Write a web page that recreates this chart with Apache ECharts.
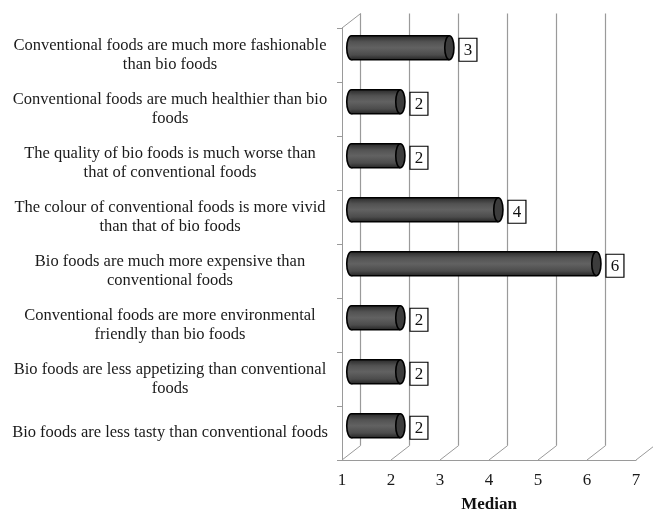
<!DOCTYPE html>
<html>
<head>
<meta charset="utf-8">
<script src="https://cdn.jsdelivr.net/npm/echarts@6/dist/echarts.min.js"></script>
<style>
  html, body { margin: 0; padding: 0; background: #fff; }
  #chart { width: 653px; height: 509px; }
</style>
</head>
<body>
<div id="chart"></div>
<script>
// Statements, listed top to bottom
const statements = [
  'Conventional foods are much more fashionable\nthan bio foods',
  'Conventional foods are much healthier than bio\nfoods',
  'The quality of bio foods is much worse than\nthat of conventional foods',
  'The colour of conventional foods is more vivid\nthan that of bio foods',
  'Bio foods are much more expensive than\nconventional foods',
  'Conventional foods are more environmental\nfriendly than bio foods',
  'Bio foods are less appetizing than conventional\nfoods',
  'Bio foods are less tasty than conventional foods'
];
// Median answer for each statement
const medians = [3, 2, 2, 4, 6, 2, 2, 2];
// Scale ticks
const scaleTicks = [1, 2, 3, 4, 5, 6, 7];

const FONT = '"Liberation Serif", "Times New Roman", serif';
const DEPTH = [18.7, -14.5];   // 3D wall offset in pixels
const GRID_COLOR = '#9a9a9a';

const chart = echarts.init(document.getElementById('chart'));

// Cylinder bars drawn at mid depth
function renderCylinder(params, api) {
  const v = api.value(0);
  const cat = api.value(1);
  const start = api.coord([scaleTicks[0], cat]);
  const end = api.coord([v, cat]);
  const ox = DEPTH[0] / 2, oy = DEPTH[1] / 2;
  const x0 = start[0] + ox, x1 = end[0] + ox;
  const cy = start[1] + oy;
  const h = 24, rx = 4.6;
  const grad = new echarts.graphic.LinearGradient(0, 0, 0, 1, [
    { offset: 0, color: '#2a2a2a' },
    { offset: 0.25, color: '#525252' },
    { offset: 0.5, color: '#626262' },
    { offset: 0.8, color: '#4c4c4c' },
    { offset: 1, color: '#262626' }
  ]);
  const boxX = x1 + rx + 5;
  return {
    type: 'group',
    children: [
      { type: 'ellipse', shape: { cx: x0, cy: cy, rx: rx, ry: h / 2 },
        style: { fill: grad, stroke: '#000', lineWidth: 1.6 } },
      { type: 'rect', shape: { x: x0, y: cy - h / 2, width: x1 - x0, height: h },
        style: { fill: grad } },
      { type: 'line', shape: { x1: x0, y1: cy - h / 2, x2: x1, y2: cy - h / 2 },
        style: { stroke: '#000', lineWidth: 1.6 } },
      { type: 'line', shape: { x1: x0, y1: cy + h / 2, x2: x1, y2: cy + h / 2 },
        style: { stroke: '#000', lineWidth: 1.6 } },
      { type: 'ellipse', shape: { cx: x1, cy: cy, rx: rx, ry: h / 2 },
        style: { fill: '#3c3c3c', stroke: '#000', lineWidth: 1.6 } },
      { type: 'rect', shape: { x: boxX, y: cy + 2 - 11.5, width: 18, height: 23 },
        style: { fill: '#fff', stroke: '#000', lineWidth: 1.2 } },
      { type: 'text', style: { x: boxX + 9, y: cy + 2.5, text: String(v),
        font: '17px ' + FONT, fill: '#111', align: 'center', verticalAlign: 'middle' } }
    ]
  };
}

// Perspective lines of the floor and the top-left edge
function renderDepthLines(params, api) {
  const v = api.value(0);
  const band = api.size([0, 1])[1];
  const bottom = api.coord([v, statements.length - 1])[1] + band / 2;
  const x = api.coord([v, 0])[0];
  const children = [
    { type: 'line', shape: { x1: x, y1: bottom, x2: x + DEPTH[0], y2: bottom + DEPTH[1] },
      style: { stroke: GRID_COLOR, lineWidth: 1 } }
  ];
  if (params.dataIndex === 0) {
    const top = api.coord([v, 0])[1] - band / 2;
    children.push({ type: 'line', shape: { x1: x, y1: top, x2: x + DEPTH[0], y2: top + DEPTH[1] },
      style: { stroke: GRID_COLOR, lineWidth: 1 } });
  }
  return { type: 'group', children: children };
}

const catData = statements.map((s, i) => i);

chart.setOption({
  animation: false,
  backgroundColor: '#fff',
  grid: [
    { left: 342, top: 28, width: 294, height: 432, outerBoundsMode: 'none', containLabel: false },
    { left: 342 + DEPTH[0], top: 28 + DEPTH[1], width: 294, height: 432, outerBoundsMode: 'none', containLabel: false }
  ],
  xAxis: [
    {
      gridIndex: 0, type: 'value', min: 1, max: 7, interval: 1,
      name: 'Median', nameLocation: 'middle', nameGap: 36,
      nameTextStyle: { fontFamily: FONT, fontSize: 17, fontWeight: 'bold', color: '#111' },
      axisLine: { show: true, lineStyle: { color: GRID_COLOR, width: 1 } },
      axisTick: { show: false },
      axisLabel: { fontFamily: FONT, fontSize: 17, color: '#1a1a1a', margin: 12 },
      splitLine: { show: false }
    },
    {
      gridIndex: 1, type: 'value', min: 1, max: 7, interval: 1,
      axisLine: { show: false }, axisTick: { show: false }, axisLabel: { show: false },
      splitLine: { show: true, lineStyle: { color: GRID_COLOR, width: 1.2 } }
    }
  ],
  yAxis: [
    {
      gridIndex: 0, type: 'category', data: statements, inverse: true,
      axisLine: { show: true, lineStyle: { color: GRID_COLOR, width: 1 } },
      axisTick: { show: true, length: 5, lineStyle: { color: GRID_COLOR } },
      axisLabel: {
        fontFamily: FONT, fontSize: 16.5, color: '#1a1a1a', lineHeight: 19,
        align: 'center', margin: 172
      },
      splitLine: { show: false }
    },
    {
      gridIndex: 1, type: 'category', data: statements, inverse: true, show: false
    }
  ],
  series: [
    {
      type: 'custom', xAxisIndex: 0, yAxisIndex: 0, clip: false, z: 1,
      renderItem: renderDepthLines,
      data: scaleTicks.map(t => [t, 0])
    },
    {
      type: 'custom', xAxisIndex: 0, yAxisIndex: 0, clip: false, z: 5,
      renderItem: renderCylinder,
      encode: { x: 0, y: 1 },
      data: medians.map((m, i) => [m, catData[i]])
    }
  ]
});
</script>
</body>
</html>
